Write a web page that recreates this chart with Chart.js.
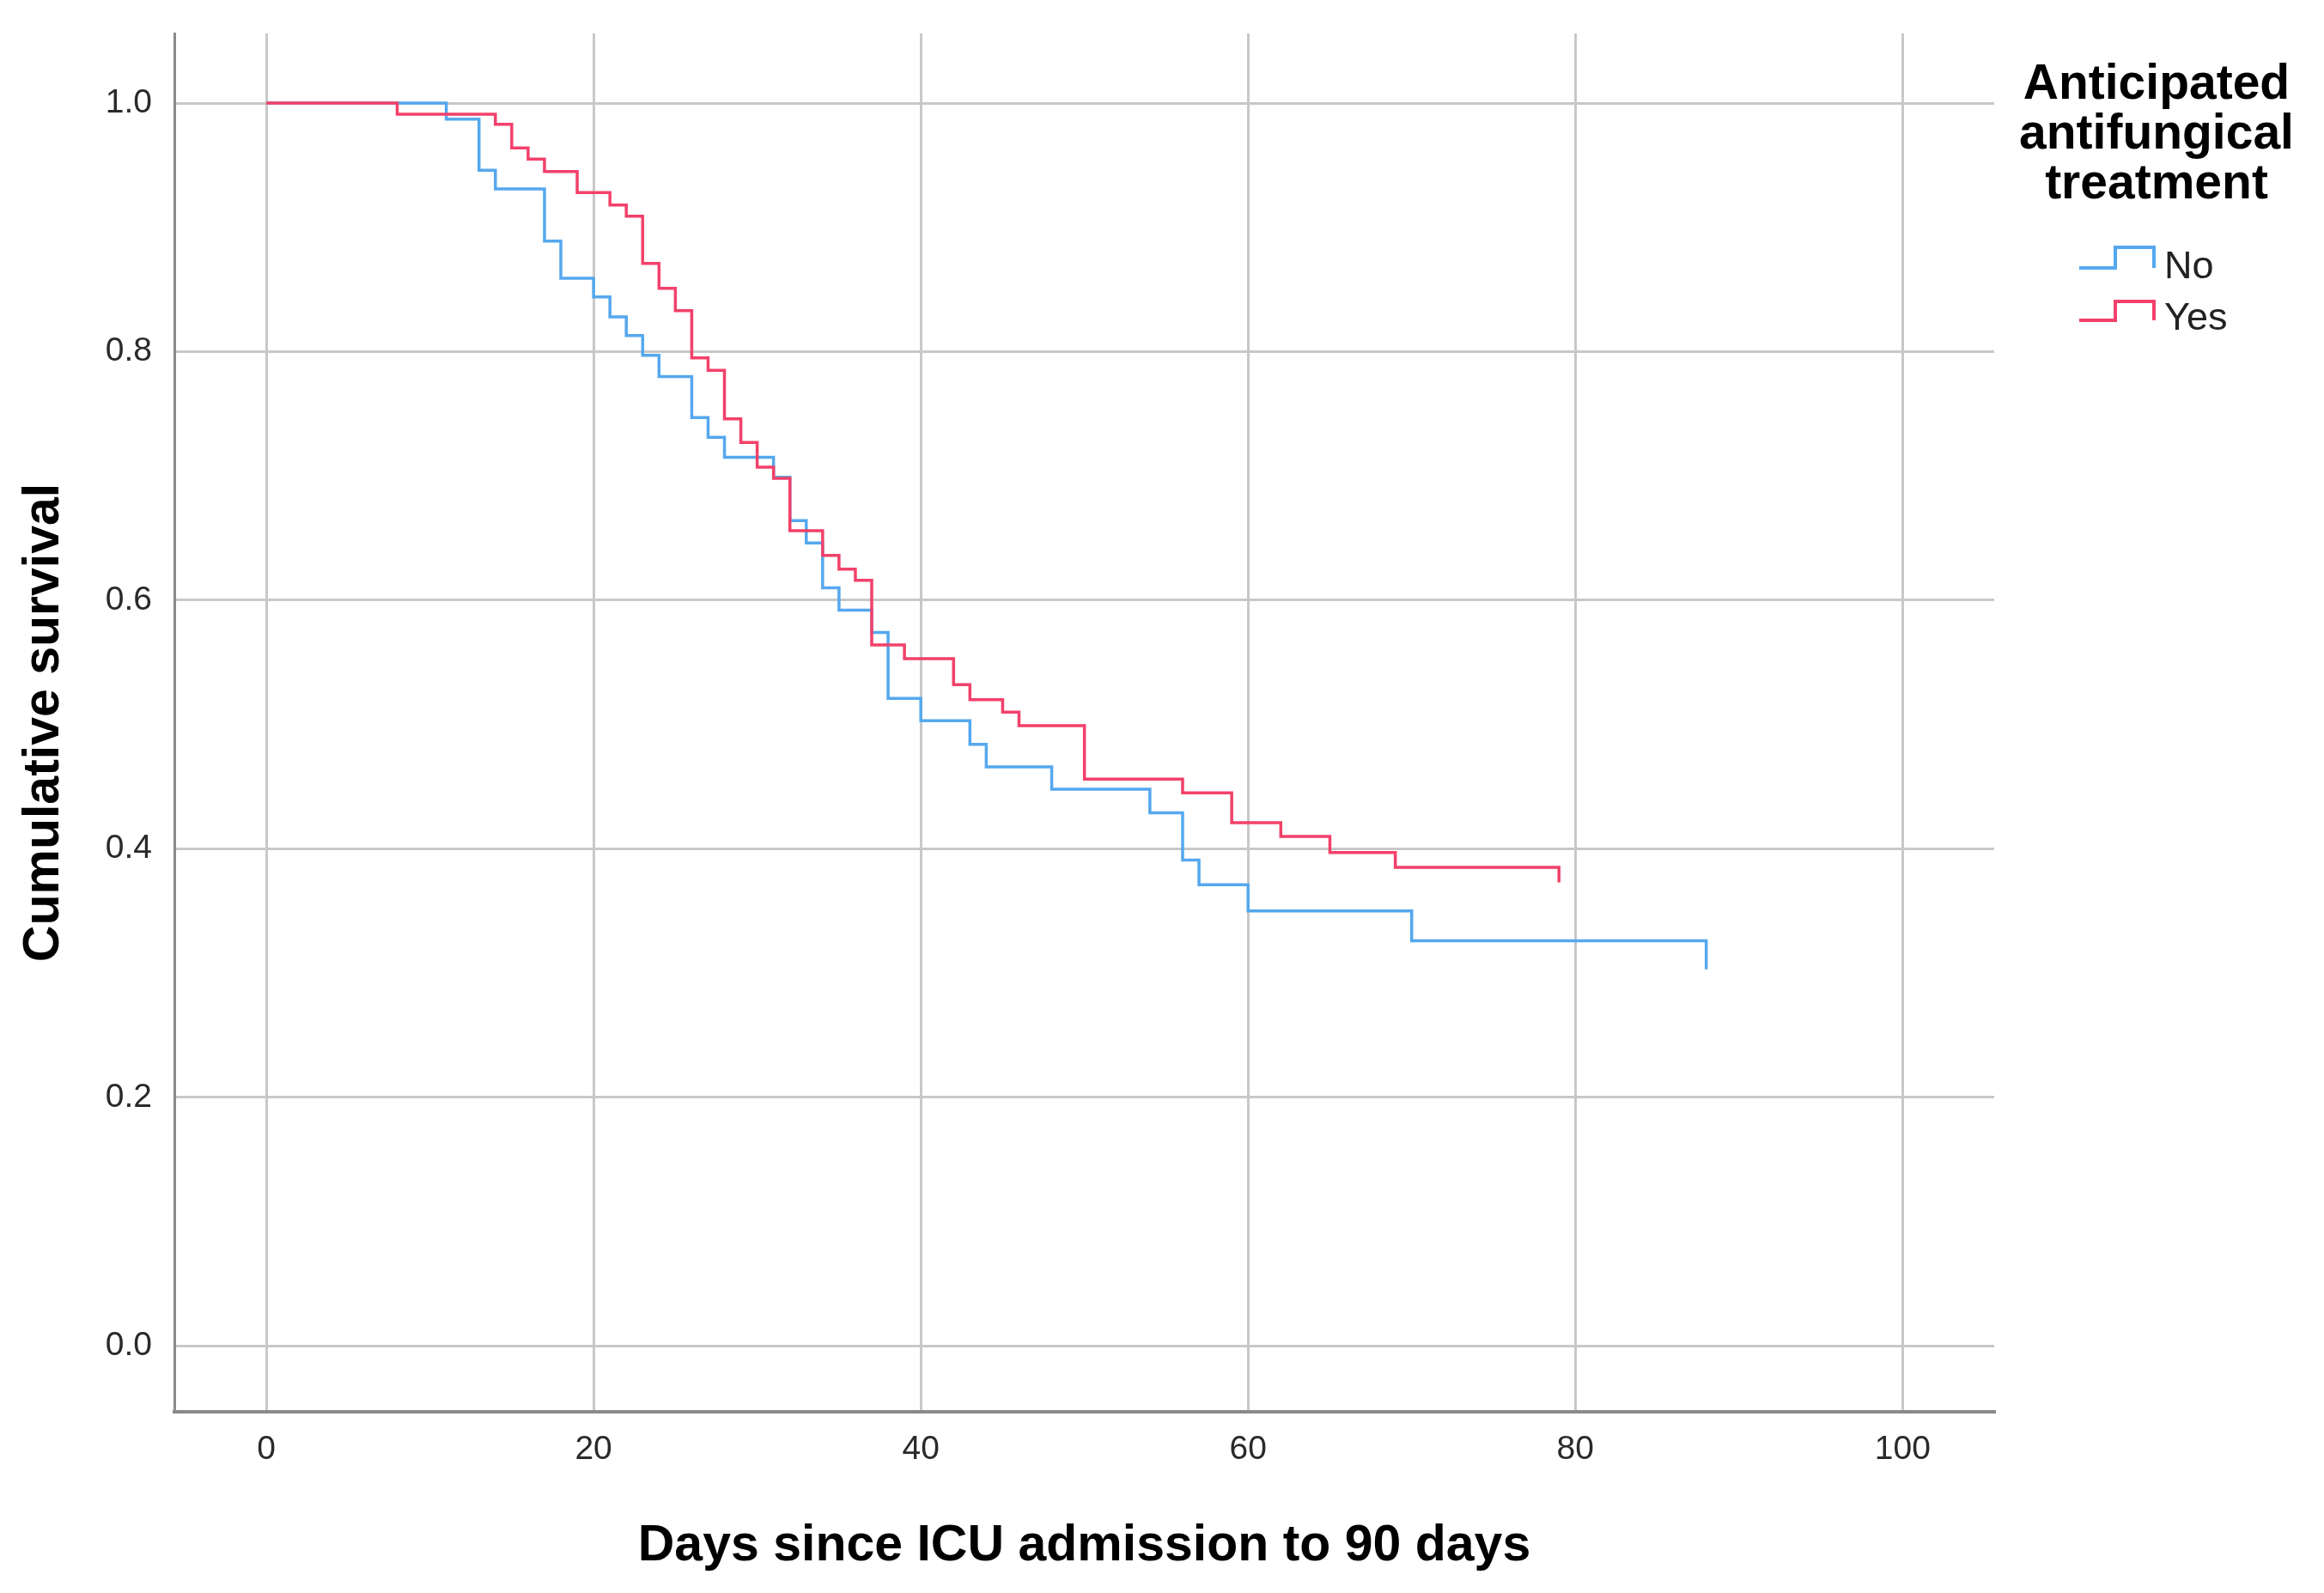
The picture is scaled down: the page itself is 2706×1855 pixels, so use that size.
<!DOCTYPE html>
<html>
<head>
<meta charset="utf-8">
<script src="https://cdn.jsdelivr.net/npm/chart.js@4/dist/chart.umd.min.js"></script>
<style>
  html, body { margin: 0; padding: 0; background: #fff; }
  #wrap { width: 2706px; height: 1855px; position: relative; }
</style>
</head>
<body>
<div id="wrap"><canvas id="km"></canvas></div>
<script>
// Kaplan-Meier steps (day, cumulative survival)
const noDays = [0, 11, 13, 14, 17, 18, 20, 21, 22, 23, 24, 26, 27, 28, 31, 32, 33, 34, 35, 37, 38, 40, 43, 44, 48, 54, 56, 57, 60, 70, 88];
const noSurv = [1.0, 0.987, 0.946, 0.931, 0.889, 0.859, 0.844, 0.828, 0.813, 0.797, 0.780, 0.747, 0.731, 0.715, 0.699, 0.664, 0.646, 0.610, 0.592, 0.574, 0.521, 0.503, 0.484, 0.466, 0.448, 0.429, 0.391, 0.371, 0.350, 0.326, 0.303];

const yesDays = [0, 8, 14, 15, 16, 17, 19, 21, 22, 23, 24, 25, 26, 27, 28, 29, 30, 31, 32, 34, 35, 36, 37, 39, 42, 43, 45, 46, 50, 56, 59, 62, 65, 69, 79];
const yesSurv = [1.0, 0.991, 0.983, 0.964, 0.955, 0.945, 0.928, 0.918, 0.909, 0.871, 0.851, 0.833, 0.795, 0.785, 0.746, 0.727, 0.707, 0.698, 0.656, 0.636, 0.625, 0.616, 0.564, 0.553, 0.532, 0.520, 0.510, 0.499, 0.456, 0.445, 0.421, 0.410, 0.397, 0.385, 0.373];

const xTicks = [0, 20, 40, 60, 80, 100];
const yTicks = [0, 0.2, 0.4, 0.6, 0.8, 1.0];

const legendTitle = ["Anticipated", "antifungical", "treatment"];
const groupNames = ["No", "Yes"];

const blue = "#55a8ee";
const red = "#f2416a";

function toPoints(days, surv) {
  return days.map((d, i) => ({ x: d, y: surv[i] }));
}

// legend drawn by hand, SPSS style with little step icons
const kmLegend = {
  id: "kmLegend",
  afterDraw(chart) {
    const ctx = chart.ctx;
    ctx.save();
    ctx.fillStyle = "#000";
    ctx.font = "bold 57px 'Liberation Sans', Arial, sans-serif";
    ctx.textAlign = "center";
    ctx.textBaseline = "alphabetic";
    const cx = 2511;
    legendTitle.forEach((line, i) => ctx.fillText(line, cx, 115 + i * 58));

    const rows = [{ low: 312, high: 288, text: 324 }, { low: 373, high: 351, text: 384 }];
    chart.data.datasets.slice().sort((a, b) => a.legendIndex - b.legendIndex).forEach((ds, i) => {
      const r = rows[i];
      ctx.strokeStyle = ds.borderColor;
      ctx.lineWidth = 4;
      ctx.beginPath();
      ctx.moveTo(2421, r.low);
      ctx.lineTo(2463, r.low);
      ctx.lineTo(2463, r.high);
      ctx.lineTo(2508, r.high);
      ctx.lineTo(2508, r.low);
      ctx.stroke();
      ctx.fillStyle = "#222";
      ctx.font = "45px 'Liberation Sans', Arial, sans-serif";
      ctx.textAlign = "left";
      ctx.fillText(ds.label, 2520, r.text);
    });
    ctx.restore();
  }
};

const ctx = document.getElementById("km").getContext("2d");
new Chart(ctx, {
  type: "line",
  data: {
    datasets: [
      {
        label: groupNames[1],
        data: toPoints(yesDays, yesSurv),
        borderColor: red,
        borderWidth: 3.5,
        stepped: true,
        pointRadius: 0,
        fill: false,
        order: 0,
        legendIndex: 1
      },
      {
        label: groupNames[0],
        data: toPoints(noDays, noSurv),
        borderColor: blue,
        borderWidth: 3.5,
        stepped: true,
        pointRadius: 0,
        fill: false,
        order: 1,
        legendIndex: 0
      }
    ]
  },
  options: {
    responsive: true,
    maintainAspectRatio: false,
    animation: false,
    layout: { padding: { left: 0, top: 39, right: 384, bottom: 0 } },
    plugins: {
      legend: { display: false },
      tooltip: { enabled: false }
    },
    scales: {
      x: {
        type: "linear",
        min: -5.62,
        max: 105.6,
        afterFit: (scale) => { scale.height = 211; },
        afterBuildTicks: (axis) => { axis.ticks = xTicks.map(v => ({ value: v })); },
        grid: { color: "#c8c8c8", lineWidth: 3, drawTicks: false },
        border: { color: "#8a8a8a", width: 4 },
        ticks: {
          padding: 21,
          color: "#2a2a2a",
          font: { family: "'Liberation Sans', Arial, sans-serif", size: 39 }
        },
        title: {
          display: true,
          text: "Days since ICU admission to 90 days",
          color: "#000",
          font: { family: "'Liberation Sans', Arial, sans-serif", size: 59, weight: "bold" },
          padding: { top: 24, bottom: 19 }
        }
      },
      y: {
        type: "linear",
        min: -0.053,
        max: 1.056,
        afterFit: (scale) => {
          scale.width = 203;
          // tick labels sit well inside the range, no extra room needed above/below
          scale.paddingTop = 0;
          scale.paddingBottom = 0;
        },
        afterBuildTicks: (axis) => { axis.ticks = yTicks.map(v => ({ value: v })); },
        grid: { color: "#c8c8c8", lineWidth: 3, drawTicks: false },
        border: { color: "#8a8a8a", width: 3 },
        ticks: {
          padding: 26,
          color: "#2a2a2a",
          font: { family: "'Liberation Sans', Arial, sans-serif", size: 39 },
          callback: (v) => v.toFixed(1)
        },
        title: {
          display: true,
          text: "Cumulative survival",
          color: "#000",
          font: { family: "'Liberation Sans', Arial, sans-serif", size: 59, weight: "bold" },
          padding: { top: 16, bottom: 0 }
        }
      }
    }
  },
  plugins: [kmLegend]
});
</script>
</body>
</html>
